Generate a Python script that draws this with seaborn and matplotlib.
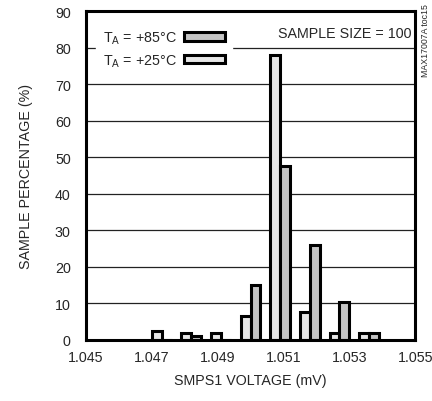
import numpy as np
import pandas as pd
import matplotlib
matplotlib.use("Agg")
import matplotlib.pyplot as plt
import seaborn as sns
from matplotlib.patches import Patch

# bin centres (mV) and sample percentages
bins = [1.0473, 1.0482, 1.0491, 1.0500, 1.0509, 1.0518, 1.0527, 1.0536]
pct_25c = [2.5, 2.0, 2.0, 6.5, 78.0, 7.5, 2.0, 2.0]
pct_85c = [0.0, 1.0, 0.0, 15.0, 47.5, 26.0, 10.5, 2.0]

x_ticks = [1.045, 1.047, 1.049, 1.051, 1.053, 1.055]
y_ticks = list(range(0, 91, 10))

LIGHT = '#e6e6e6'
DARK = '#c4c4c4'
FS = 10.3

df = pd.DataFrame({
    'voltage': bins * 2,
    'pct': pct_25c + pct_85c,
    'temp': ['+25'] * len(bins) + ['+85'] * len(bins),
})

sns.set_style('white')
plt.rcParams['font.family'] = ['Liberation Sans', 'DejaVu Sans']

fig = plt.figure(figsize=(4.32, 4.02), dpi=100)
ax = fig.add_axes([0.199, 0.152, 0.762, 0.818])

sns.barplot(data=df, x='voltage', y='pct', hue='temp', hue_order=['+25', '+85'],
            palette={'+25': LIGHT, '+85': DARK}, native_scale=True, width=0.67,
            edgecolor='black', linewidth=2.2, saturation=1, legend=False, ax=ax, zorder=3)

ax.set_xlim(1.045, 1.055)
ax.set_ylim(0, 90)
ax.set_xticks(x_ticks)
ax.set_xticklabels([f'{t:.3f}' for t in x_ticks])
ax.set_yticks(y_ticks)
ax.tick_params(axis='x', length=0, labelsize=FS, pad=7)
ax.tick_params(axis='y', length=0, labelsize=FS, pad=11)
for y in y_ticks[1:-1]:
    ax.axhline(y, color='#222222', linewidth=0.9, zorder=1)
for s in ax.spines.values():
    s.set_linewidth(2.2)
    s.set_color('black')
    s.set_zorder(5)

ax.set_xlabel('SMPS1 VOLTAGE (mV)', fontsize=FS, labelpad=7)
ax.set_ylabel('SAMPLE PERCENTAGE (%)', fontsize=FS, labelpad=16)

handles = [Patch(facecolor=DARK, edgecolor='black', linewidth=2.2),
           Patch(facecolor=LIGHT, edgecolor='black', linewidth=2.2)]
labels = [r'T$_\mathregular{A}$ = +85°C', r'T$_\mathregular{A}$ = +25°C']
leg = ax.legend(handles, labels, loc='upper left', bbox_to_anchor=(0.01, 0.985),
                markerfirst=False, frameon=True, fancybox=False, framealpha=1,
                edgecolor='white', fontsize=FS, handlelength=2.9, handleheight=0.5,
                handletextpad=0.5, labelspacing=0.45, borderpad=0.45)
leg.set_zorder(4)

ax.text(0.988, 0.955, 'SAMPLE SIZE = 100', transform=ax.transAxes, ha='right', va='top',
        fontsize=FS, zorder=4)
fig.text(0.984, 0.99, 'MAX17007A toc15', rotation=90, ha='center', va='top', fontsize=6.3)

plt.savefig('out.png', dpi=100)
